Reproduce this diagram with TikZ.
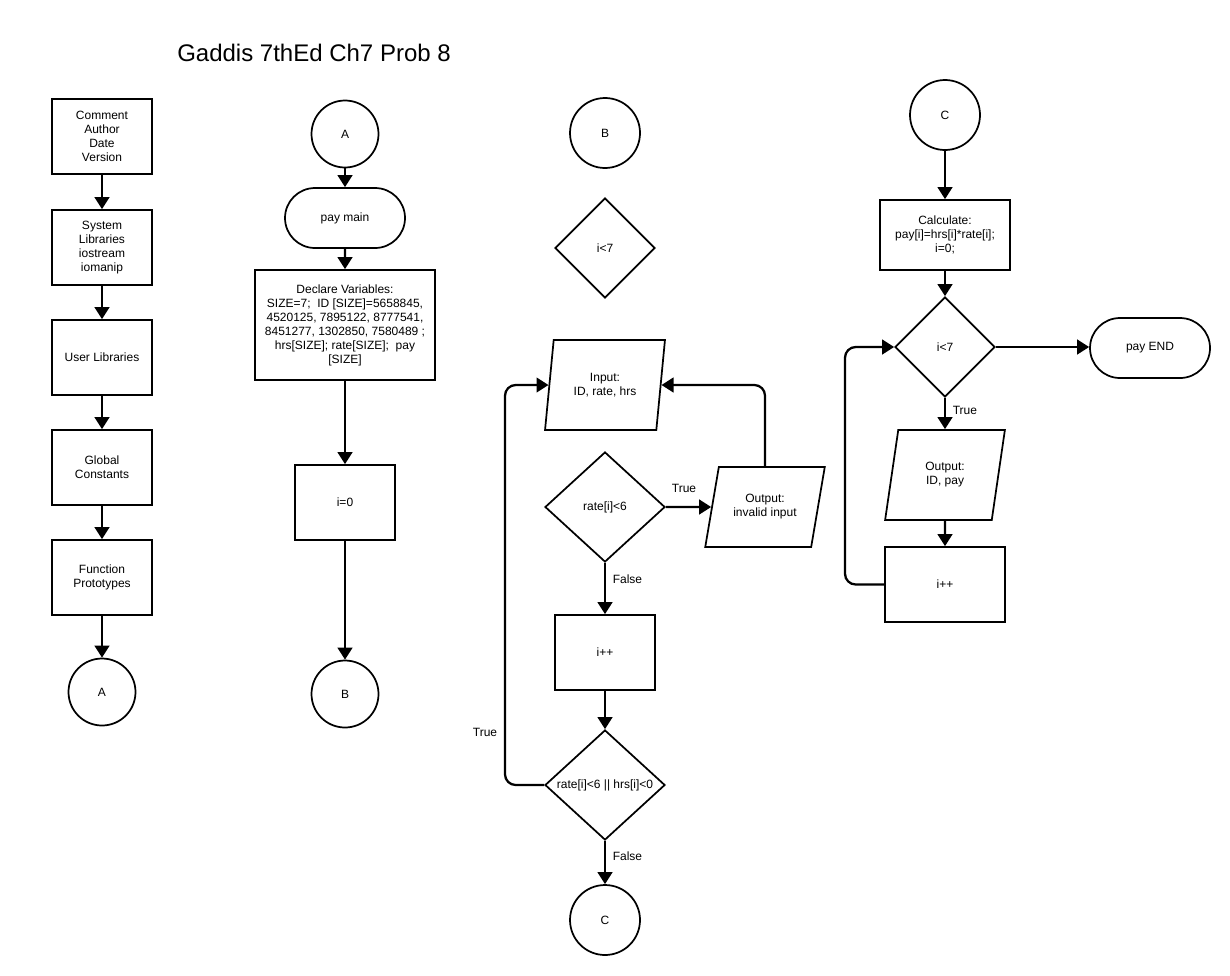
\documentclass[tikz,border=0pt]{standalone}
\usepackage{fontspec}
\setmainfont{Liberation Sans}
\usetikzlibrary{shapes.geometric,shapes.misc,arrows.meta}
\begin{document}
\begin{tikzpicture}[x=0.75pt,y=-0.75pt,
  every node/.style={font=\fontsize{9}{10.5}\selectfont, align=center, inner sep=0pt},
  shp/.style={draw, line width=1.3pt},
  proc/.style={shp, rectangle, minimum width=75pt, minimum height=56.25pt},
  circA/.style={shp, circle, minimum size=50.25pt},
  circB/.style={shp, circle, minimum size=52.5pt},
  term/.style={shp, rounded rectangle, minimum width=90pt, minimum height=45pt},
  dec/.style={shp, diamond, aspect=1},
  io/.style={shp, trapezium, trapezium stretches=true, minimum width=90pt, minimum height=67.5pt,
             trapezium left angle=77.47, trapezium right angle=102.53},
  arr/.style={line width=1.7pt, -{Triangle[width=11pt,length=9pt]}},
  lbl/.style={font=\fontsize{9}{10.5}\selectfont}
]
\useasboundingbox (0,0) rectangle (1230,975);
\fill[white] (0,0) rectangle (1230,975);

\node[font=\fontsize{18}{21}\selectfont] (title) at (314,53) {Gaddis 7thEd Ch7 Prob 8};

% column 1
\node[proc] (c1) at (102,136.5) {Comment\\Author\\Date\\Version};
\node[proc] (c2) at (102,247.5) {System\\Libraries\\iostream\\iomanip};
\node[proc] (c3) at (102,357.5) {User Libraries};
\node[proc] (c4) at (102,467.5) {Global\\Constants};
\node[proc] (c5) at (102,577.5) {Function\\Prototypes};
\node[circA] (c6) at (102,692) {A};
\draw[arr] (c1) -- (c2);
\draw[arr] (c2) -- (c3);
\draw[arr] (c3) -- (c4);
\draw[arr] (c4) -- (c5);
\draw[arr] (c5) -- (c6);

% column 2
\node[circA] (m1) at (345,134) {A};
\node[term] (m2) at (345,218) {pay main};
\node[shp, rectangle, minimum width=135pt, minimum height=82.5pt] (m3) at (345,325)
  {Declare Variables:\\SIZE=7;\ \ ID [SIZE]=5658845,\\4520125, 7895122, 8777541,\\8451277, 1302850, 7580489 ;\\hrs[SIZE]; rate[SIZE];\ \ pay\\{}[SIZE]};
\node[proc] (m4) at (345,502.5) {i=0};
\node[circA] (m5) at (345,694) {B};
\draw[arr] (m1) -- (m2);
\draw[arr] (m2) -- (m3);
\draw[arr] (m3) -- (m4);
\draw[arr] (m4) -- (m5);

% column 3
\node[circB] (b1) at (605,133) {B};
\node[dec, minimum width=75pt, minimum height=75pt] (b2) at (605,248) {i<7};
\node[io] (b3) at (605,385) {Input:\\ID, rate, hrs};
\node[dec, minimum width=90pt, minimum height=82.5pt] (b4) at (605,507) {rate[i]<6};
\node[io, minimum height=60pt, trapezium left angle=69.44, trapezium right angle=110.56] (b5) at (765,507) {Output:\\invalid input};
\node[proc] (b6) at (605,652.5) {i++};
\node[dec, minimum width=90pt, minimum height=82.5pt] (b7) at (605,785) {rate[i]<6 || hrs[i]<0};
\node[circB] (b8) at (605,920) {C};
\coordinate (bl) at (505,785);
\draw[arr] (b4) -- node[lbl, pos=0.4, above=10pt] {True} (b5);
\draw[arr] (b4) -- node[lbl, pos=0.32, right=5pt] {False} (b6);
\draw[arr] (b6) -- (b7);
\draw[arr] (b7) -- node[lbl, pos=0.35, right=5pt] {False} (b8);
\draw[arr, rounded corners=8pt] (b7.west) -- (bl) -- (bl |- b3.west) -- (b3.west);
\draw[arr, rounded corners=8pt] (b5.north) -- (b5.north |- b3.east) -- (b3.east);
\node[lbl] (t2) at (485,732) {True};

% column 4
\node[circB] (d1) at (945,115) {C};
\node[shp, rectangle, minimum width=97.5pt, minimum height=52.5pt] (d2) at (945,235) {Calculate:\\pay[i]=hrs[i]*rate[i];\\i=0;};
\node[dec, minimum width=75pt, minimum height=75pt] (d3) at (945,347) {i<7};
\node[term] (d4) at (1150,348) {pay END};
\node[io] (d5) at (945,475) {Output:\\ID, pay};
\node[shp, rectangle, minimum width=90pt, minimum height=56.25pt] (d6) at (945,584.5) {i++};
\coordinate (dl) at (845,584.5);
\draw[arr] (d1) -- (d2);
\draw[arr] (d2) -- (d3);
\draw[arr] (d3) -- (d4.west |- d3);
\draw[arr] (d3) -- node[lbl, pos=0.4, right=5pt] {True} (d5);
\draw[arr] (d5) -- (d6);
\draw[arr, rounded corners=8pt] (d6.west) -- (dl) -- (dl |- d3.west) -- (d3.west);
\end{tikzpicture}
\end{document}
